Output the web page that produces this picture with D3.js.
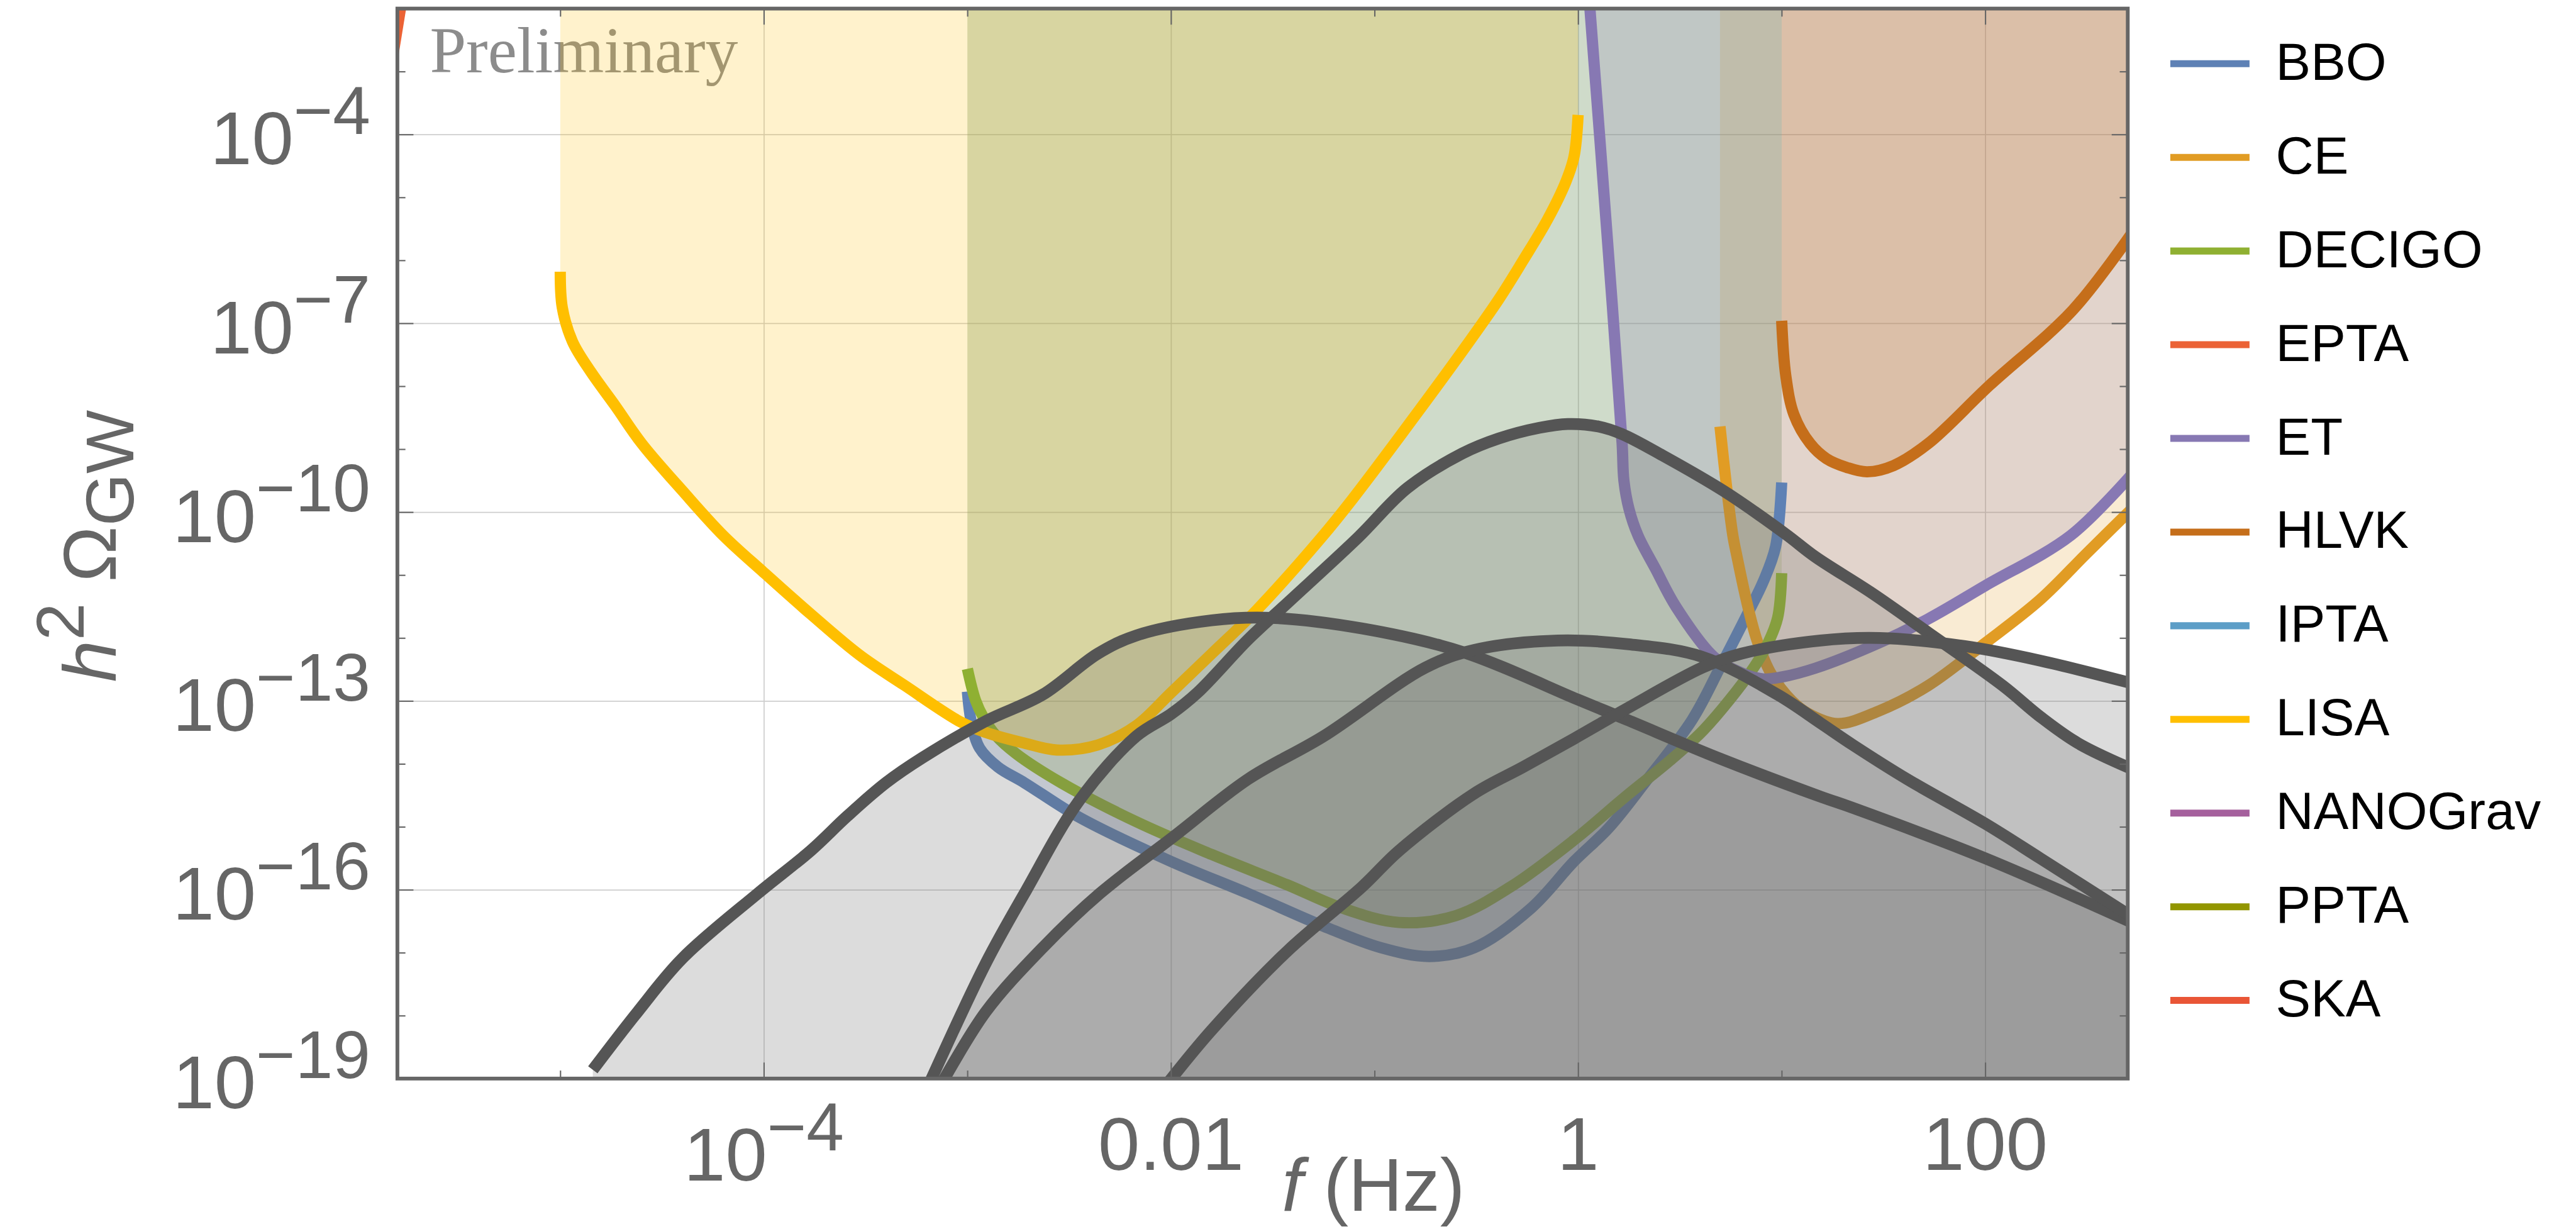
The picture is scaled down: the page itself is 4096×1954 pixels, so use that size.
<!DOCTYPE html>
<html>
<head>
<meta charset="utf-8">
<script src="https://cdn.jsdelivr.net/npm/d3@7"></script>
<style>
	body { margin: 0; background: #ffffff; }
	svg { display: block; }
</style>
</head>
<body>
<div id="chart"></div>
<script>
// curves, each point is [log10 f (Hz), log10 h^2 Omega_GW]
var bbo = [[-3.00, -12.85], [-2.98, -13.35], [-2.94, -13.75], [-2.85, -14.05], [-2.72, -14.30], [-2.45, -14.85],
	[-2.00, -15.55], [-1.62, -16.06], [-1.25, -16.58], [-0.97, -16.92], [-0.73, -17.06], [-0.51, -16.92],
	[-0.23, -16.29], [-0.02, -15.55], [0.15, -15.02], [0.33, -14.29], [0.56, -13.30], [0.70, -12.45],
	[0.83, -11.63], [0.91, -11.10], [0.97, -10.55], [1.00, -9.53]];
var ce = [[0.697, -8.64], [0.728, -9.56], [0.76, -10.37], [0.78, -10.70], [0.83, -11.45], [0.88, -12.05],
	[0.95, -12.58], [1.05, -13.00], [1.13, -13.20], [1.275, -13.36], [1.477, -13.16], [1.718, -12.76],
	[2.00, -12.08], [2.27, -11.39], [2.50, -10.65], [2.72, -9.95]];
var decigo = [[-3.00, -12.49], [-2.96, -12.99], [-2.92, -13.27], [-2.86, -13.55], [-2.76, -13.84], [-2.54, -14.30],
	[-2.17, -14.92], [-1.80, -15.44], [-1.43, -15.92], [-1.16, -16.29], [-0.88, -16.52], [-0.60, -16.41],
	[-0.33, -15.95], [-0.02, -15.21], [0.24, -14.50], [0.45, -13.95], [0.62, -13.45], [0.85, -12.53],
	[0.93, -12.10], [0.98, -11.68], [1.00, -10.97]];
var epta = [[-5.83, -2.90], [-5.78, -1.90]];
var et = [[0.058, -2.00], [0.14, -5.50], [0.216, -8.90], [0.225, -9.50], [0.25, -9.95], [0.294, -10.37],
	[0.38, -10.90], [0.48, -11.50], [0.667, -12.30], [0.80, -12.55], [0.907, -12.65], [1.00, -12.62],
	[1.165, -12.48], [1.477, -12.08], [1.718, -11.70], [2.00, -11.17], [2.42, -10.37], [2.72, -9.40]];
var hlvk = [[1.00, -6.96], [1.02, -7.83], [1.06, -8.45], [1.14, -8.91], [1.22, -9.15], [1.32, -9.29],
	[1.42, -9.36], [1.55, -9.26], [1.72, -8.91], [2.02, -7.99], [2.43, -6.79], [2.72, -5.57]];
var lisa = [[-5.00, -6.18], [-4.99, -6.75], [-4.94, -7.29], [-4.85, -7.77], [-4.73, -8.31], [-4.60, -8.91],
	[-4.40, -9.66], [-4.20, -10.37], [-4.00, -10.96], [-3.77, -11.62], [-3.53, -12.27], [-3.31, -12.75],
	[-3.03, -13.34], [-2.91, -13.50], [-2.72, -13.67], [-2.56, -13.78], [-2.36, -13.70], [-2.17, -13.39],
	[-2.00, -12.87], [-1.80, -12.25], [-1.58, -11.56], [-1.26, -10.40], [-1.11, -9.80], [-0.84, -8.64],
	[-0.57, -7.45], [-0.39, -6.62], [-0.27, -6.00], [-0.15, -5.35], [-0.06, -4.75], [-0.02, -4.35], [0.00, -3.69]];

// signal spectra (grey, filled down to the axis)
var signalA = [[-4.84, -18.86], [-4.62, -17.94], [-4.40, -17.09], [-4.03, -16.06], [-3.77, -15.38], [-3.59, -14.83],
	[-3.40, -14.30], [-3.22, -13.90], [-2.91, -13.32], [-2.63, -12.90], [-2.36, -12.25], [-2.17, -11.96],
	[-1.80, -11.72], [-1.51, -11.68], [-1.06, -11.85], [-0.57, -12.22], [0.00, -12.98], [0.24, -13.30],
	[0.70, -13.92], [1.19, -14.52], [1.35, -14.70], [2.00, -15.50], [2.72, -16.52]];
var signalB = [[-3.19, -19.10], [-2.91, -17.17], [-2.72, -16.06], [-2.45, -14.58], [-2.17, -13.56], [-2.00, -13.21],
	[-1.87, -12.87], [-1.62, -12.02], [-1.43, -11.45], [-1.08, -10.40], [-0.84, -9.62], [-0.57, -9.07],
	[-0.39, -8.83], [-0.19, -8.66], [-0.05, -8.60], [0.10, -8.64], [0.215, -8.76], [0.415, -9.10], [0.718, -9.67],
	[1.02, -10.35], [1.165, -10.71], [1.44, -11.28], [1.718, -11.91], [2.087, -12.76], [2.27, -13.25],
	[2.455, -13.67], [2.72, -14.08]];
var signalC = [[-3.13, -19.10], [-2.91, -17.94], [-2.63, -16.92], [-2.35, -16.06], [-1.985, -15.15], [-1.62, -14.24],
	[-1.25, -13.56], [-0.75, -12.47], [-0.51, -12.19], [-0.10, -12.04], [0.25, -12.10], [0.61, -12.30],
	[0.98, -12.90], [1.19, -13.35], [1.35, -13.70], [1.62, -14.25], [2.00, -14.95], [2.27, -15.50], [2.72, -16.43]];
var signalD = [[-2.01, -19.05], [-1.80, -18.23], [-1.43, -16.98], [-1.06, -15.95], [-0.88, -15.38], [-0.51, -14.47],
	[-0.27, -14.05], [-0.02, -13.60], [0.24, -13.12], [0.61, -12.47], [0.80, -12.25], [1.19, -12.04],
	[1.48, -12.00], [1.90, -12.13], [2.27, -12.36], [2.72, -12.72]];

var legendNames = ["BBO", "CE", "DECIGO", "EPTA", "ET", "HLVK", "IPTA", "LISA", "NANOGrav", "PPTA", "SKA"];
var legendColors = ["#5e81b5", "#e19c24", "#8fb032", "#eb6235", "#8778b3", "#c56e1a", "#5d9ec7", "#ffbf00", "#a5609d", "#929600", "#e95536"];

var xTickVals = [1e-4, 1e-2, 1, 100];
var xTickText = ["10^\u22124", "0.01", "1", "100"];
var xMinorVals = [1e-5, 1e-3, 1e-1, 10];
var yTickVals = [1e-19, 1e-16, 1e-13, 1e-10, 1e-7, 1e-4];
var yTickText = ["10^\u221219", "10^\u221216", "10^\u221213", "10^\u221210", "10^\u22127", "10^\u22124"];
var yMinorVals = [1e-18, 1e-17, 1e-15, 1e-14, 1e-12, 1e-11, 1e-9, 1e-8, 1e-6, 1e-5, 1e-3];

drawChart()

function drawChart() {
	var W = 4813, H = 2296;
	var plot = { left: 742.5, right: 3975.5, top: 16, bottom: 2015 };
	var sans = "'Liberation Sans', Arial, Helvetica, sans-serif";

	var svg = d3.select("#chart")
		.append("svg")
		.attr("width", 4096)
		.attr("height", 1954)
		.attr("viewBox", `0 0 ${W} ${H}`);
	svg.append("rect").attr("width", W).attr("height", H).attr("fill", "#ffffff");

	var x = d3.scaleLog().domain([Math.pow(10, -5.8), Math.pow(10, 2.7)]).range([plot.left, plot.right]);
	var y = d3.scaleLog().domain([1e-19, 1e-2]).range([plot.bottom, plot.top]);

	function toPts(arr) {
		return arr.map(d => [Math.pow(10, d[0]), Math.pow(10, d[1])]);
	}

	svg.append("defs").append("clipPath").attr("id", "plotclip")
		.append("rect")
		.attr("x", plot.left).attr("y", plot.top)
		.attr("width", plot.right - plot.left).attr("height", plot.bottom - plot.top);

	// grid lines
	var gx = svg.append("g")
		.attr("transform", `translate(0,${plot.bottom})`)
		.call(d3.axisBottom(x).tickValues(xTickVals).tickSize(-(plot.bottom - plot.top)).tickFormat(""));
	var gy = svg.append("g")
		.attr("transform", `translate(${plot.left},0)`)
		.call(d3.axisLeft(y).tickValues(yTickVals).tickSize(-(plot.right - plot.left)).tickFormat(""));
	[gx, gy].forEach(g => {
		g.select(".domain").remove();
		g.selectAll("line").attr("stroke", "#cecece").attr("stroke-width", 2);
	});

	svg.append("text")
		.attr("x", 803)
		.attr("y", 135)
		.style("font-family", "'Liberation Serif', 'Times New Roman', serif")
		.style("font-size", "122px")
		.attr("fill", "#8c8c8c")
		.text("Preliminary");

	var detectors = [
		{ name: "BBO", data: bbo },
		{ name: "CE", data: ce },
		{ name: "DECIGO", data: decigo },
		{ name: "EPTA", data: epta, nofill: true },
		{ name: "ET", data: et },
		{ name: "HLVK", data: hlvk },
		{ name: "LISA", data: lisa }
	];
	var signals = [signalA, signalB, signalC, signalD];

	var g = svg.append("g").attr("clip-path", "url(#plotclip)");

	var smooth = d3.curveCatmullRom.alpha(0.5);
	var areaTop = d3.area()
		.x(d => x(d[0]))
		.y0(plot.top - 20)
		.y1(d => y(d[1]))
		.curve(smooth);
	var areaBottom = d3.area()
		.x(d => x(d[0]))
		.y0(plot.bottom + 20)
		.y1(d => y(d[1]))
		.curve(smooth);
	var line = d3.line()
		.x(d => x(d[0]))
		.y(d => y(d[1]))
		.curve(smooth);

	function colorOf(name) {
		return legendColors[legendNames.indexOf(name)];
	}

	// sensitivity regions
	detectors.filter(d => !d.nofill).forEach(d => {
		g.append("path")
			.attr("d", areaTop(toPts(d.data)))
			.attr("fill", colorOf(d.name))
			.attr("fill-opacity", 0.2);
	});
	detectors.forEach(d => {
		g.append("path")
			.attr("d", line(toPts(d.data)))
			.attr("fill", "none")
			.attr("stroke", colorOf(d.name))
			.attr("stroke-width", 21);
	});

	// signals
	signals.forEach(s => {
		g.append("path")
			.attr("d", areaBottom(toPts(s)))
			.attr("fill", "#666666")
			.attr("fill-opacity", 0.23);
	});
	signals.forEach(s => {
		g.append("path")
			.attr("d", line(toPts(s)))
			.attr("fill", "none")
			.attr("stroke", "#555555")
			.attr("stroke-width", 22);
	});

	// frame ticks
	var tickAxes = [
		[d3.axisBottom(x).tickValues(xTickVals).tickSize(-30), `translate(0,${plot.bottom})`],
		[d3.axisBottom(x).tickValues(xMinorVals).tickSize(-15), `translate(0,${plot.bottom})`],
		[d3.axisTop(x).tickValues(xTickVals).tickSize(-30), `translate(0,${plot.top})`],
		[d3.axisTop(x).tickValues(xMinorVals).tickSize(-15), `translate(0,${plot.top})`],
		[d3.axisLeft(y).tickValues(yTickVals).tickSize(-30), `translate(${plot.left},0)`],
		[d3.axisLeft(y).tickValues(yMinorVals).tickSize(-15), `translate(${plot.left},0)`],
		[d3.axisRight(y).tickValues(yTickVals).tickSize(-30), `translate(${plot.right},0)`],
		[d3.axisRight(y).tickValues(yMinorVals).tickSize(-15), `translate(${plot.right},0)`]
	];
	tickAxes.forEach(a => {
		var t = svg.append("g").attr("transform", a[1]).call(a[0].tickFormat(""));
		t.select(".domain").remove();
		t.selectAll("line").attr("stroke", "#666666").attr("stroke-width", 2.5);
	});

	svg.append("rect")
		.attr("x", plot.left).attr("y", plot.top)
		.attr("width", plot.right - plot.left).attr("height", plot.bottom - plot.top)
		.attr("fill", "none")
		.attr("stroke", "#666666")
		.attr("stroke-width", 7);

	function powerLabel(sel, txt) {
		var parts = txt.split("^");
		sel.append("tspan").style("font-size", "140px").text(parts[0]);
		if (parts.length > 1) {
			sel.append("tspan").attr("dy", -57).style("font-size", "126px").text(parts[1]);
		}
	}

	// x tick labels
	xTickVals.forEach((v, i) => {
		var txt = xTickText[i];
		var t = svg.append("text")
			.attr("x", x(v))
			.attr("y", txt.indexOf("^") >= 0 ? 2206 : 2185)
			.attr("text-anchor", "middle")
			.attr("fill", "#666666")
			.style("font-family", sans);
		powerLabel(t, txt);
	});

	// y tick labels
	yTickVals.forEach((v, i) => {
		var t = svg.append("text")
			.attr("x", 692)
			.attr("y", y(v) + 56)
			.attr("text-anchor", "end")
			.attr("fill", "#666666")
			.style("font-family", sans);
		powerLabel(t, yTickText[i]);
	});

	// axis titles
	var xt = svg.append("text")
		.attr("x", 2395)
		.attr("y", 2262)
		.attr("fill", "#666666")
		.style("font-family", sans)
		.style("font-size", "140px");
	xt.append("tspan").style("font-style", "italic").text("f");
	xt.append("tspan").text(" (Hz)");

	var yt = svg.append("text")
		.attr("transform", "translate(216,1020) rotate(-90)")
		.attr("text-anchor", "middle")
		.attr("fill", "#666666")
		.style("font-family", sans)
		.style("font-size", "140px");
	yt.append("tspan").style("font-style", "italic").text("h");
	yt.append("tspan").attr("dy", -60).style("font-size", "126px").text("2");
	yt.append("tspan").attr("dy", 60).text(" \u03A9");
	yt.append("tspan").attr("dy", 33).style("font-size", "126px").text("GW");

	// legend
	var legend = svg.append("g").attr("id", "legend");
	legendNames.forEach((name, i) => {
		var ly = 119 + i * 175;
		legend.append("line")
			.attr("x1", 4055).attr("x2", 4203)
			.attr("y1", ly).attr("y2", ly)
			.attr("stroke", legendColors[i])
			.attr("stroke-width", 13);
		legend.append("text")
			.attr("x", 4252)
			.attr("y", ly + 30)
			.attr("fill", "#000000")
			.style("font-family", sans)
			.style("font-size", "98px")
			.text(name);
	});
}
</script>
</body>
</html>
